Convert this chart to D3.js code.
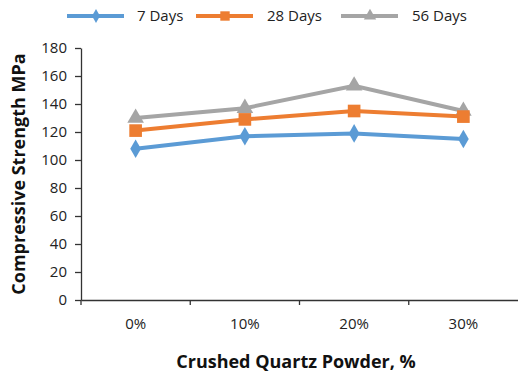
<!DOCTYPE html>
<html lang="en">
<head>
<meta charset="UTF-8">
<title>Compressive Strength</title>
<script src="https://d3js.org/d3.v7.min.js"></script>
<style>
  body { margin: 0; background: #fff; }
  svg text { font-family: "Open Sans", "Liberation Sans", sans-serif; }
</style>
</head>
<body>
<div id="chart"></div>
<script>
  const categories = ["0%", "10%", "20%", "30%"];
  const days7 = [108, 117, 119, 115];
  const days28 = [121, 129, 135, 131];
  const days56 = [130, 137, 153, 135];
  const yTicks = [0, 20, 40, 60, 80, 100, 120, 140, 160, 180];

  const series = [
    { name: "7 Days", values: days7, color: "#5B9BD5", symbol: d3.symbolDiamond, size: 100 },
    { name: "28 Days", values: days28, color: "#ED7D31", symbol: d3.symbolSquare, size: 160 },
    { name: "56 Days", values: days56, color: "#A5A5A5", symbol: d3.symbolTriangle, size: 120 }
  ];

  const W = 518, H = 377;
  const margin = { top: 48, right: 0, bottom: 77, left: 81 };

  const svg = d3.select("#chart").append("svg")
    .attr("width", W).attr("height", H);

  const x = d3.scaleBand().domain(categories).range([margin.left, W - margin.right]);
  const y = d3.scaleLinear().domain([0, 180]).range([H - margin.bottom, margin.top]);

  // y axis
  const yAxis = svg.append("g")
    .attr("transform", `translate(${margin.left},0)`)
    .call(d3.axisLeft(y).tickValues(yTicks).tickSize(6).tickSizeOuter(0).tickPadding(8));
  yAxis.selectAll("text").attr("font-size", 15).attr("fill", "#222");
  yAxis.selectAll("line, path").attr("stroke", "#333").attr("stroke-width", 1.3);

  // x axis
  const xAxis = svg.append("g")
    .attr("transform", `translate(0,${y(0)})`)
    .call(d3.axisBottom(x).tickSize(0).tickPadding(18));
  xAxis.select("path").attr("stroke", "#333").attr("stroke-width", 1.3);
  xAxis.selectAll("text").attr("font-size", 15).attr("fill", "#222");
  // category boundary ticks
  xAxis.selectAll(".bound")
    .data(categories)
    .enter().append("line")
    .attr("class", "bound")
    .attr("x1", d => x(d)).attr("x2", d => x(d))
    .attr("y1", 0).attr("y2", 5)
    .attr("stroke", "#333").attr("stroke-width", 1.3);

  // axis titles
  svg.append("text")
    .attr("transform", `translate(25,${(y(0) + y(180)) / 2}) rotate(-90)`)
    .attr("text-anchor", "middle")
    .attr("font-size", 18).attr("font-weight", "bold").attr("fill", "#111")
    .text("Compressive Strength MPa");

  svg.append("text")
    .attr("x", 296)
    .attr("y", 368)
    .attr("text-anchor", "middle")
    .attr("font-size", 18).attr("font-weight", "bold").attr("fill", "#111")
    .text("Crushed Quartz Powder, %");

  // lines and markers
  const cx = c => x(c) + x.bandwidth() / 2;
  const line = d3.line().x((v, i) => cx(categories[i])).y(v => y(v));

  series.slice().reverse().forEach(s => {
    svg.append("path")
      .datum(s.values)
      .attr("d", line)
      .attr("fill", "none")
      .attr("stroke", s.color)
      .attr("stroke-width", 4);
    svg.selectAll(null)
      .data(s.values)
      .enter().append("path")
      .attr("d", d3.symbol().type(s.symbol).size(s.size))
      .attr("transform", (v, i) => `translate(${cx(categories[i])},${y(v)})`)
      .attr("fill", s.color);
  });

  // legend
  const legendX = [67, 196, 341];
  const legend = svg.append("g").attr("transform", "translate(0,16)");
  series.forEach((s, i) => {
    const g = legend.append("g").attr("transform", `translate(${legendX[i]},0)`);
    g.append("line").attr("x1", 0).attr("x2", 57).attr("y1", 0).attr("y2", 0)
      .attr("stroke", s.color).attr("stroke-width", 4);
    g.append("path").attr("d", d3.symbol().type(s.symbol).size(s.size * 0.55))
      .attr("transform", "translate(29,0)").attr("fill", s.color);
    g.append("text").attr("x", i === 0 ? 70 : 71).attr("y", 0).attr("dy", "0.35em")
      .attr("font-size", 15).attr("fill", "#222")
      .text(s.name);
  });
</script>
</body>
</html>
